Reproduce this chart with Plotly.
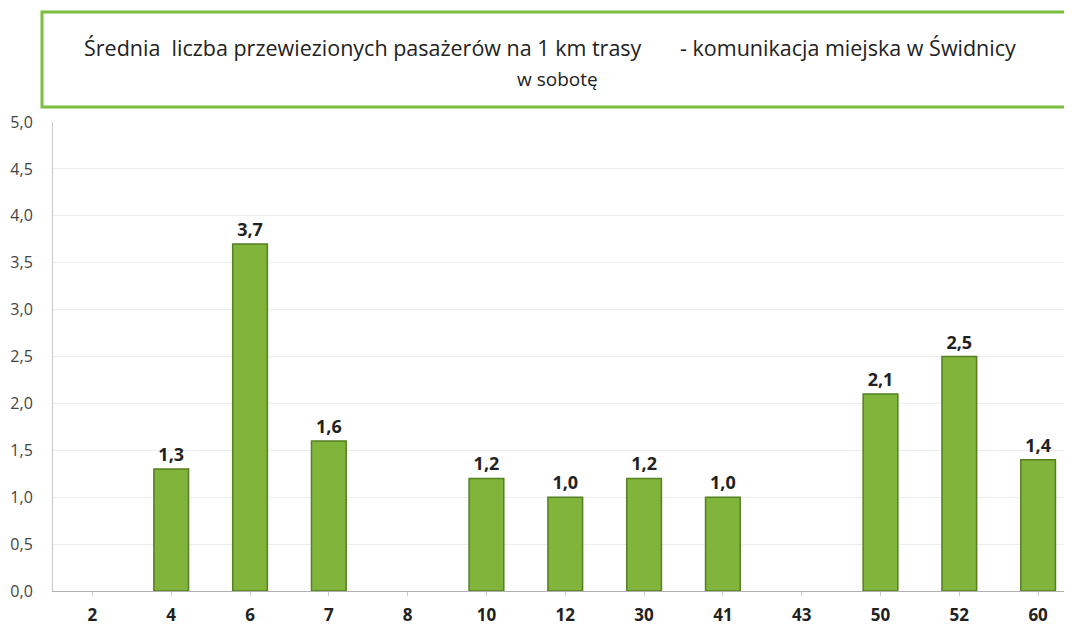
import plotly.graph_objects as go

categories = ["2", "4", "6", "7", "8", "10", "12", "30", "41", "43", "50", "52", "60"]
values = [None, 1.3, 3.7, 1.6, None, 1.2, 1.0, 1.2, 1.0, None, 2.1, 2.5, 1.4]
title_left = "Średnia\u00a0\u00a0liczba przewiezionych pasażerów na 1 km trasy"
title_right = "- komunikacja miejska w Świdnicy"
title_line2 = "w sobotę"

OFF = 8  # page body margin
W, H = 1072 - OFF, 629 - OFF
L, R, T, B = 53 - OFF, 0, 122 - OFF, 629 - 591
pw, ph = W - L - R, H - T - B


def px(x):
    return (x - OFF - L) / pw


def py(y):
    return (H - B - (y - OFF)) / ph


font = "'Open Sans', sans-serif"

fig = go.Figure()
fig.add_trace(go.Bar(
    x=categories, y=values, width=0.44,
    marker=dict(color="#80b43a", line=dict(color="#557f22", width=1.5)),
    text=[("" if v is None else f"{v:.1f}".replace(".", ",")) for v in values],
    textposition="outside", cliponaxis=False,
    textfont=dict(family=font, size=18, color="#222", weight="bold"),
))

fig.update_layout(
    width=W, height=H,
    margin=dict(l=L, r=R, t=T, b=B),
    paper_bgcolor="white", plot_bgcolor="white",
    separators=", ",
    showlegend=False,
    xaxis=dict(
        type="category", range=[-0.5, 12.43], automargin=False,
        showline=True, linecolor="#b0b0b0", linewidth=1,
        ticks="outside", ticklen=4, tickcolor="#c8c8c8",
        tickfont=dict(family=font, size=17, color="#222", weight="bold"),
        ticklabelstandoff=5,
        showgrid=False,
    ),
    yaxis=dict(
        range=[0, 5], dtick=0.5, tickformat=".1f", automargin=False,
        showgrid=True, gridcolor="#ececec",
        showline=True, linecolor="#c8c8c8",
        zeroline=False,
        tickfont=dict(family=font, size=16, color="#444"),
        ticks="", ticklabelstandoff=16,
    ),
    shapes=[dict(
        type="rect", xref="paper", yref="paper",
        x0=px(42), x1=px(1090), y0=py(107), y1=py(12),
        line=dict(color="#7cbf3f", width=3), fillcolor="rgba(0,0,0,0)",
    )],
    annotations=[
        dict(text=title_left, xref="paper", yref="paper", x=px(82), y=py(47),
             xanchor="left", yanchor="middle", showarrow=False,
             font=dict(family=font, size=21.5, color="#222")),
        dict(text=title_right, xref="paper", yref="paper", x=px(678), y=py(47),
             xanchor="left", yanchor="middle", showarrow=False,
             font=dict(family=font, size=21.5, color="#222")),
        dict(text=title_line2, xref="paper", yref="paper", x=px(557), y=py(79),
             xanchor="center", yanchor="middle", showarrow=False,
             font=dict(family=font, size=19, color="#222")),
    ],
)

fig.write_html("out.html")
